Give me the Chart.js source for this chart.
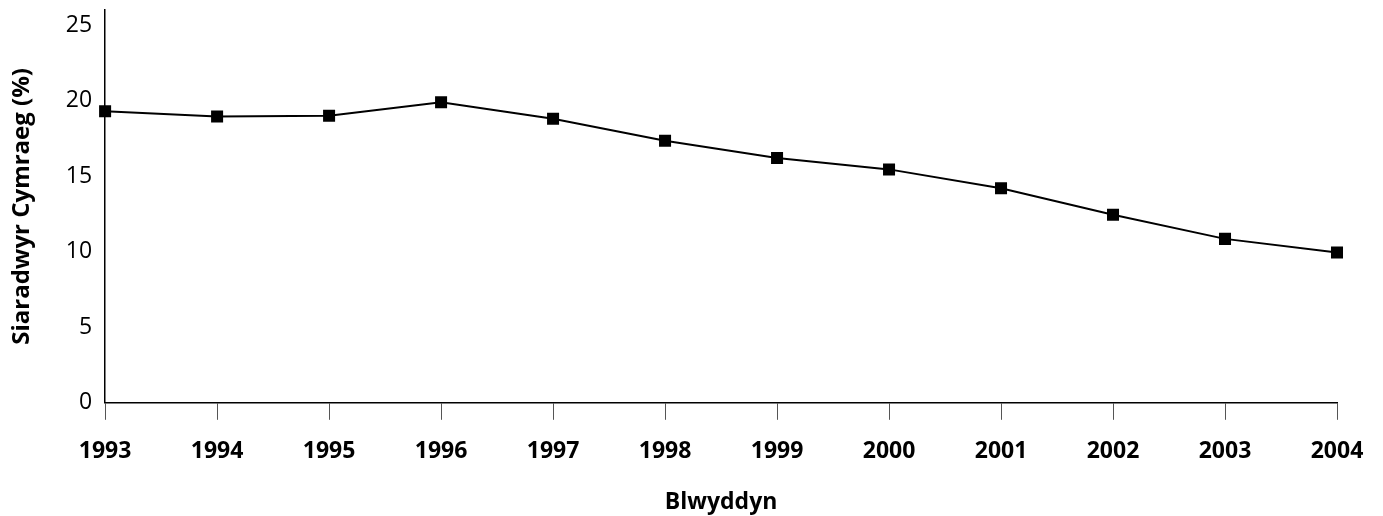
<!DOCTYPE html>
<html>
<head>
<meta charset="utf-8">
<script src="https://cdn.jsdelivr.net/npm/chart.js@4"></script>
<style>
  html, body { margin: 0; padding: 0; background: #fff; }
  #wrap { width: 1383px; height: 516px; }
</style>
</head>
<body>
<div id="wrap"><canvas id="chart"></canvas></div>
<script>
// Data
const years = ['1993', '1994', '1995', '1996', '1997', '1998', '1999', '2000', '2001', '2002', '2003', '2004'];
const speakers = [19.3, 18.95, 19.0, 19.9, 18.8, 17.35, 16.2, 15.45, 14.2, 12.45, 10.85, 9.95];
const yTicks = [0, 5, 10, 15, 20, 25];

const fontFamily = '"Open Sans", "Noto Sans", sans-serif';

new Chart(document.getElementById('chart'), {
    type: 'line',
    data: {
        labels: years,
        datasets: [{
            label: 'Siaradwyr Cymraeg (%)',
            data: speakers,
            borderColor: '#000',
            borderWidth: 2,
            backgroundColor: '#000',
            pointStyle: 'rect',
            pointRadius: 8.5,
            pointBackgroundColor: '#000',
            pointBorderWidth: 0,
            tension: 0,
            fill: false
        }]
    },
    options: {
        responsive: true,
        maintainAspectRatio: false,
        animation: false,
        layout: { padding: { top: 10, right: 46, left: 8, bottom: 0 } },
        plugins: {
            legend: { display: false },
            tooltip: { enabled: false }
        },
        scales: {
            x: {
                type: 'category',
                offset: false,
                grid: {
                    display: true,
                    drawOnChartArea: false,
                    drawTicks: true,
                    tickLength: 17,
                    color: '#555',
                    lineWidth: 1
                },
                border: { display: true, color: '#000', width: 1.5 },
                ticks: {
                    color: '#000',
                    font: { family: fontFamily, size: 23, weight: 'bold' },
                    padding: 18,
                    maxRotation: 0
                },
                title: {
                    display: true,
                    text: 'Blwyddyn',
                    color: '#000',
                    font: { family: fontFamily, size: 23, weight: 'bold' },
                    padding: { top: 5, bottom: 0 }
                }
            },
            y: {
                min: 0,
                max: 26,
                afterBuildTicks: axis => {
                    axis.ticks = yTicks.map(v => ({ value: v }));
                },
                // the top tick sits below the axis end, no room needed above it
                afterFit: axis => { axis.paddingTop = 0; },
                grid: { display: false, drawTicks: false },
                border: { display: true, color: '#000', width: 1.5 },
                ticks: {
                    color: '#000',
                    font: { family: fontFamily, size: 23 },
                    padding: 13
                },
                title: {
                    display: true,
                    text: 'Siaradwyr Cymraeg (%)',
                    color: '#000',
                    font: { family: fontFamily, size: 24, weight: 'bold' },
                    padding: { top: 0, bottom: 16 }
                }
            }
        }
    }
});
</script>
</body>
</html>
